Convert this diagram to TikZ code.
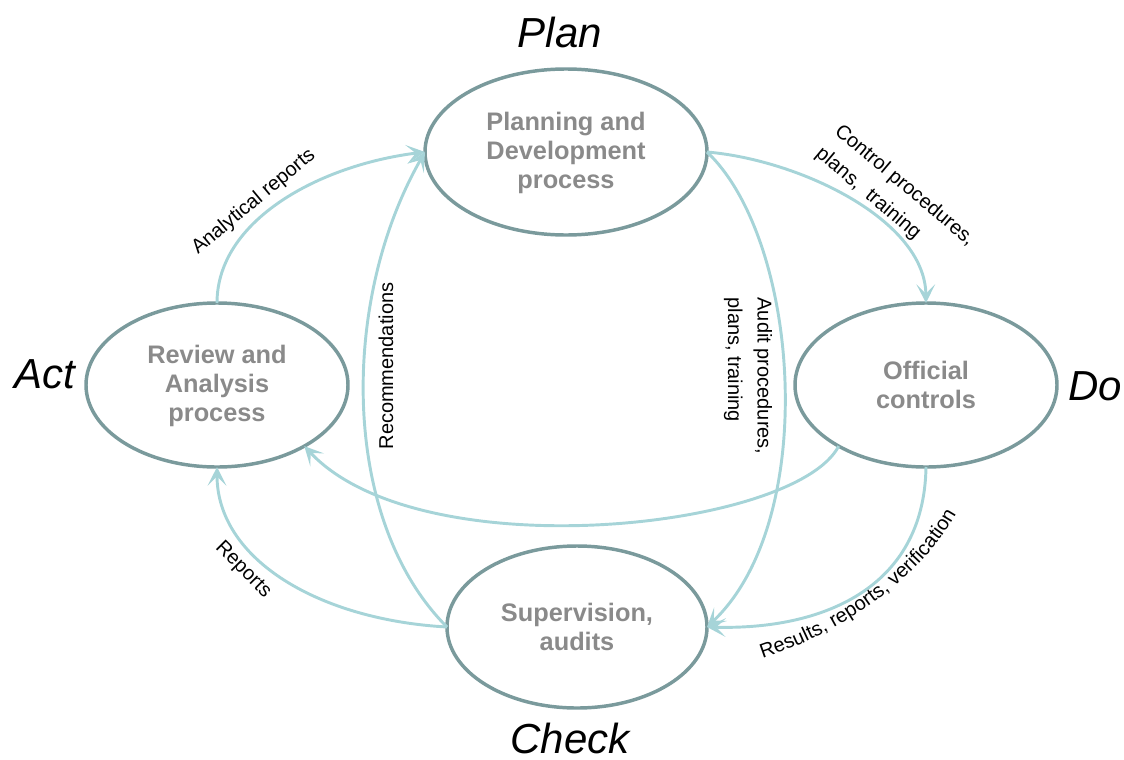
\documentclass[tikz,border=0pt]{standalone}
\usepackage{fontspec}
\setmainfont{Liberation Sans}
\usetikzlibrary{arrows.meta,shapes.geometric,decorations.text}
\definecolor{ellcol}{RGB}{122,154,156}
\definecolor{arrcol}{RGB}{166,212,216}
\definecolor{txtgrey}{RGB}{138,138,138}
\newcommand{\mylbl}{\fontsize{15}{22}\selectfont}
\begin{document}
\begin{tikzpicture}[x=0.75pt,y=-0.75pt,
  proc/.style={ellipse, draw=ellcol, line width=2.6pt, inner sep=0pt, outer sep=0pt,
    align=center, text=txtgrey, font=\fontsize{19}{21.5}\selectfont\bfseries},
  phase/.style={font=\fontsize{31.5}{36}\selectfont\itshape, anchor=base, inner sep=0pt},
  flow/.style={draw=arrcol, line width=2.2pt,
    -{Stealth[length=14pt,width=14pt,inset=7pt,fill=arrcol]}},
  lbl/.style={font=\mylbl, inner sep=1pt}]
\useasboundingbox (0,0) rectangle (1124,760);

% process ellipses
\node[proc, minimum width=211.5pt, minimum height=124.5pt] (plan) at (566,152)
  {\strut Planning and\\Development\\process};
\node[proc, minimum width=196.5pt, minimum height=123pt] (act) at (217,385)
  {\strut Review and\\Analysis\\process};
\node[proc, minimum width=196.5pt, minimum height=123pt] (do) at (926,385)
  {Official\\controls};
\node[proc, minimum width=195pt, minimum height=121.5pt] (check) at (577,627)
  {Supervision,\\audits};

% phase labels
\node[phase] (lplan) at (560,47) {Plan};
\node[phase] (lact) at (45,388) {Act};
\node[phase, anchor=base west] (ldo) at (1068,400) {Do};
\node[phase] (lcheck) at (570,753) {Check};

% connectors
\draw[flow] (act.north) .. controls (217,220) and (320,165) .. (plan.west)
  node[lbl, pos=0.42, sloped, above=3pt] {Analytical reports};
\draw[flow] (plan.east) .. controls (800,160) and (925,220) .. (do.north);
\draw[flow] (do.215) .. controls (795,530) and (420,570) .. (act.-35);
\draw[flow] (do.south) .. controls (924,590) and (820,630) .. (check.east);
\draw[flow] (check.west) .. controls (320,620) and (217,560) .. (act.south);
\draw[flow] (check.west) .. controls (340,520) and (340,300) .. (plan.west);
\draw[flow] (plan.east) .. controls (800,240) and (820,520) .. (check.east);

% edge labels
\node[lbl, rotate=-40, align=left] (lctrl) at (895,197)
  {Control procedures,\\plans,\ \ training};
\node[lbl, rotate=90] (lrec) at (386,366) {Recommendations};
\node[lbl, rotate=-90, align=left] (laud) at (748,376)
  {Audit procedures,\\plans, training};
\node[lbl, rotate=-45] (lrep) at (243,570) {Reports};
\path[decorate, decoration={text along path,
    text={|\mylbl|Results, reports, verification}, text align=center}]
  (742,665) .. controls (832,640) and (928,580) .. (966,495);
\end{tikzpicture}
\end{document}
